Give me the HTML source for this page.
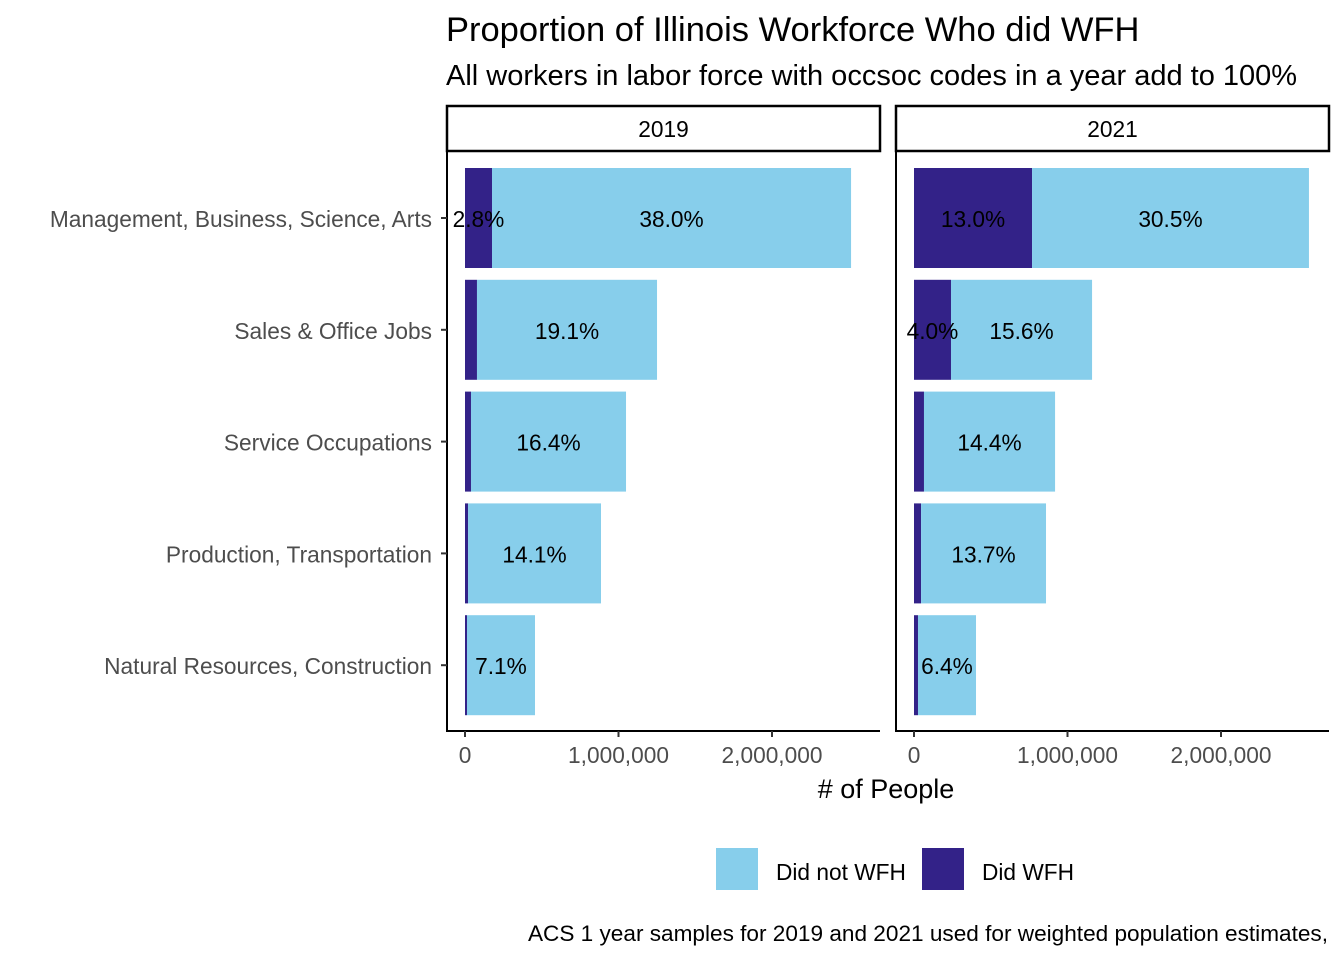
<!DOCTYPE html>
<html><head><meta charset="utf-8"><style>
body{margin:0;background:#fff}
svg{font-family:"Liberation Sans",Arial,sans-serif}
</style></head><body>
<svg id="c" width="1344" height="960">
<text x="446" y="41" font-size="34.5" fill="#000">Proportion of Illinois Workforce Who did WFH</text>
<text x="446" y="85" font-size="29" fill="#000">All workers in labor force with occsoc codes in a year add to 100%</text>
<g id="plot"></g>
<text x="886" y="798" font-size="27" text-anchor="middle"># of People</text>
<rect x="716" y="848" width="42" height="42" fill="#87CEEB"/>
<text x="776" y="880" font-size="22.7">Did not WFH</text>
<rect x="922" y="848" width="42" height="42" fill="#332288"/>
<text x="982" y="880" font-size="22.7">Did WFH</text>
<text x="1328" y="941" font-size="22.6" text-anchor="end">ACS 1 year samples for 2019 and 2021 used for weighted population estimates,</text>
</svg>
<script>
const categories=["Management, Business, Science, Arts","Sales & Office Jobs","Service Occupations","Production, Transportation","Natural Resources, Construction"];
const years=["2019","2021"];
const wfh2019=[176000,78000,39000,20000,13000];
const notwfh2019=[2339000,1173000,1010000,866000,443000];
const wfh2021=[769000,241000,65000,46000,26000];
const notwfh2021=[1804000,919000,854000,814000,378000];
const wfhLabels2019=["2.8%","","","",""];
const notLabels2019=["38.0%","19.1%","16.4%","14.1%","7.1%"];
const wfhLabels2021=["13.0%","4.0%","","",""];
const notLabels2021=["30.5%","15.6%","14.4%","13.7%","6.4%"];
const ticks=[0,1000000,2000000];
const tickLabels=["0","1,000,000","2,000,000"];

const NS="http://www.w3.org/2000/svg";
const g=document.getElementById('plot');
function el(t,a,txt){const e=document.createElementNS(NS,t);for(const k in a)e.setAttribute(k,a[k]);if(txt!==undefined)e.textContent=txt;g.appendChild(e);return e;}
const panels=[{x0:447,x1:880,zero:465,w:wfh2019,n:notwfh2019,wl:wfhLabels2019,nl:notLabels2019},
{x0:896,x1:1329,zero:914,w:wfh2021,n:notwfh2021,wl:wfhLabels2021,nl:notLabels2021}];
const scale=153.5/1000000;
const yc=i=>218+i*111.8;
const bh=100;
panels.forEach((p,pi)=>{
  const X=v=>p.zero+v*scale;
  let s=el('rect',{x:p.x0,y:106,width:p.x1-p.x0,height:45,fill:'#fff',stroke:'#000','stroke-width':2.5});
  
  let st=el('text',{x:(p.x0+p.x1)/2,y:137,'font-size':22.7,'text-anchor':'middle'},years[pi]);
  
  categories.forEach((c,i)=>{
    const y=yc(i)-bh/2;
    let r1=el('rect',{x:X(0),y:y,width:p.w[i]*scale,height:bh,fill:'#332288'});
    
    let r2=el('rect',{x:X(p.w[i]),y:y,width:p.n[i]*scale,height:bh,fill:'#87CEEB'});
    
    if(p.wl[i]){let t=el('text',{x:X(p.w[i]/2),y:yc(i)+9,'font-size':22.7,'text-anchor':'middle'},p.wl[i]);
      }
    let t2=el('text',{x:X(p.w[i]+p.n[i]/2),y:yc(i)+9,'font-size':22.7,'text-anchor':'middle'},p.nl[i]);
    
  });
  let ax=el('path',{d:`M${p.x0} 151V731H${p.x1}`,fill:'none',stroke:'#000','stroke-width':2});
  
  ticks.forEach((v,k)=>{
    let tk=el('line',{x1:X(v),x2:X(v),y1:731,y2:737,stroke:'#333','stroke-width':2});
    
    let tl=el('text',{x:X(v),y:763,'font-size':22.7,'text-anchor':'middle',fill:'#4d4d4d'},tickLabels[k]);
    
  });
});
categories.forEach((c,i)=>{
  let tk=el('line',{x1:441,x2:447,y1:yc(i),y2:yc(i),stroke:'#333','stroke-width':2});
  
  let t=el('text',{x:432,y:yc(i)+9,'font-size':22.7,'text-anchor':'end',fill:'#4d4d4d'},c);
  
});
</script>
</body></html>
